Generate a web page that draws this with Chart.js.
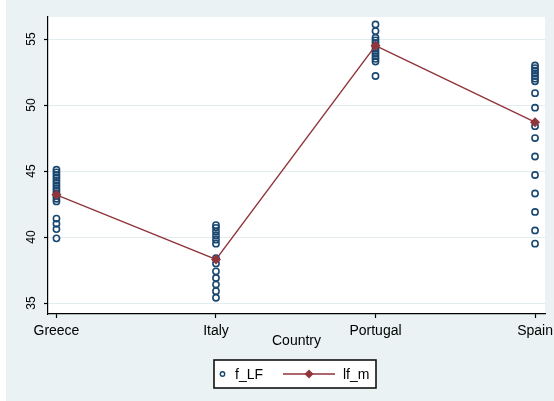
<!DOCTYPE html>
<html>
<head>
<meta charset="utf-8">
<script src="https://cdn.jsdelivr.net/npm/chart.js@4/dist/chart.umd.min.js"></script>
<style>
  html, body { margin: 0; padding: 0; background: #ffffff; }
  #wrap { width: 554px; height: 401px; }
</style>
</head>
<body>
<div id="wrap"><canvas id="c" width="554" height="401"></canvas></div>
<script>
// Categories and tick values
const countries = ['Greece', 'Italy', 'Portugal', 'Spain'];
const yTicks = [35, 40, 45, 50, 55];

// f_LF observations per country
const fLF_Greece   = [45.1, 44.9, 44.7, 44.5, 44.3, 44.1, 43.9, 43.7, 43.5, 43.3, 43.1, 42.9, 42.7, 41.4, 41.0, 40.6, 39.9];
const fLF_Italy    = [40.9, 40.7, 40.4, 40.1, 39.8, 39.5, 38.4, 38.0, 37.4, 36.9, 36.4, 35.9, 35.4];
const fLF_Portugal = [56.1, 55.6, 55.1, 54.9, 54.7, 54.5, 54.3, 54.1, 53.9, 53.7, 53.5, 53.3, 52.2];
const fLF_Spain    = [53.0, 52.8, 52.6, 52.4, 52.2, 52.0, 51.8, 50.9, 49.8, 48.4, 47.5, 46.1, 44.7, 43.3, 41.9, 40.5, 39.5];

// lf_m per country
const lfM = [43.2, 38.3, 54.5, 48.7];

const NAVY = '#1a476f';
const MAROON = '#90353b';
const BG = '#eaf2f3';
const FONT = '"Liberation Sans", Arial, sans-serif';

const fLFSeries = [fLF_Greece, fLF_Italy, fLF_Portugal, fLF_Spain];
const fLFPoints = [];
fLFSeries.forEach((vals, i) => vals.forEach(v => fLFPoints.push({ x: i, y: v })));
const lfMPoints = lfM.map((v, i) => ({ x: i, y: v }));

// Background panels and the legend box
const frame = {
  id: 'frame',
  beforeDraw(chart) {
    const ctx = chart.ctx;
    const a = chart.chartArea;
    ctx.save();
    ctx.fillStyle = BG;
    ctx.fillRect(6, 0, chart.width - 6, chart.height);
    ctx.fillStyle = '#ffffff';
    ctx.fillRect(a.left, a.top, a.right - a.left, a.bottom - a.top);
    ctx.restore();
  },
  afterDraw(chart) {
    const ctx = chart.ctx;
    ctx.save();
    // legend box
    ctx.fillStyle = '#ffffff';
    ctx.fillRect(214, 360, 162, 28);
    ctx.strokeStyle = '#111111';
    ctx.lineWidth = 1.6;
    ctx.strokeRect(214, 360, 162, 28);
    const cy = 374;
    // f_LF symbol
    ctx.strokeStyle = NAVY;
    ctx.lineWidth = 1.4;
    ctx.beginPath();
    ctx.arc(222.5, cy, 2.2, 0, Math.PI * 2);
    ctx.stroke();
    // lf_m symbol
    ctx.strokeStyle = MAROON;
    ctx.lineWidth = 1.4;
    ctx.beginPath();
    ctx.moveTo(283, cy);
    ctx.lineTo(335, cy);
    ctx.stroke();
    ctx.fillStyle = MAROON;
    ctx.beginPath();
    ctx.moveTo(309, cy - 4.5);
    ctx.lineTo(313.5, cy);
    ctx.lineTo(309, cy + 4.5);
    ctx.lineTo(304.5, cy);
    ctx.closePath();
    ctx.fill();
    // legend labels
    ctx.fillStyle = '#000000';
    ctx.font = '14px ' + FONT;
    ctx.textBaseline = 'middle';
    ctx.textAlign = 'left';
    ctx.fillText('f_LF', 235, cy + 1);
    ctx.fillText('lf_m', 343, cy + 1);
    ctx.restore();
  }
};

new Chart(document.getElementById('c'), {
  type: 'scatter',
  data: {
    datasets: [
      {
        label: 'lf_m',
        data: lfMPoints,
        showLine: true,
        borderColor: MAROON,
        backgroundColor: MAROON,
        borderWidth: 1.4,
        pointStyle: 'rectRot',
        pointRadius: 5,
        pointBorderWidth: 0,
        pointBackgroundColor: MAROON,
        order: 0
      },
      {
        label: 'f_LF',
        data: fLFPoints,
        showLine: false,
        borderColor: NAVY,
        backgroundColor: 'rgba(0,0,0,0)',
        pointStyle: 'circle',
        pointRadius: 3.1,
        pointBorderWidth: 1.6,
        order: 1
      }
    ]
  },
  options: {
    responsive: false,
    animation: false,
    devicePixelRatio: 1,
    layout: { padding: { top: 17, right: 9, left: 0, bottom: 0 } },
    plugins: { legend: { display: false }, tooltip: { enabled: false } },
    scales: {
      x: {
        type: 'linear',
        min: -0.053,
        max: 3.0625,
        afterBuildTicks(s) { s.ticks = countries.map((c, i) => ({ value: i })); },
        afterFit(s) { s.height = 87; s.paddingLeft = 0; s.paddingRight = 0; },
        ticks: {
          autoSkip: false,
          maxRotation: 0,
          color: '#000000',
          padding: 5,
          font: { family: FONT, size: 14 },
          callback: (v) => countries[v]
        },
        grid: { drawOnChartArea: false, drawTicks: true, tickLength: 4, tickColor: '#000000', tickWidth: 1.2 },
        border: { display: true, color: '#000000', width: 1.2 },
        title: {
          display: true,
          text: 'Country',
          color: '#000000',
          font: { family: FONT, size: 14 },
          padding: { top: 0, bottom: 51 }
        }
      },
      y: {
        type: 'linear',
        min: 34.17,
        max: 56.67,
        afterBuildTicks(s) { s.ticks = yTicks.map(v => ({ value: v })); },
        afterFit(s) { s.width = 48; s.paddingTop = 0; s.paddingBottom = 0; },
        ticks: {
          autoSkip: false,
          minRotation: 90,
          maxRotation: 90,
          crossAlign: 'center',
          padding: 6,
          color: '#000000',
          font: { family: FONT, size: 12 }
        },
        grid: { color: '#e3ecee', lineWidth: 1, drawTicks: true, tickLength: 4, tickColor: '#000000', tickWidth: 1.2 },
        border: { display: true, color: '#000000', width: 1.2 }
      }
    }
  },
  plugins: [frame]
});
</script>
</body>
</html>
